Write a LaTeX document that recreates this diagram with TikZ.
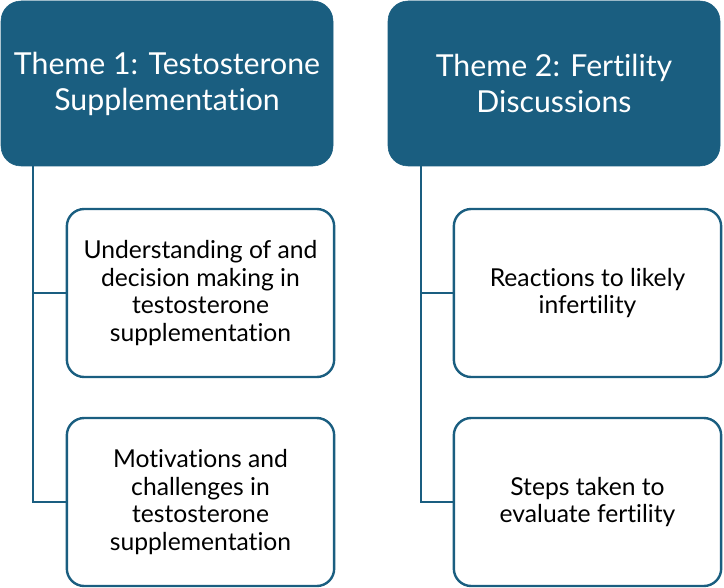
\documentclass[tikz,border=0pt]{standalone}
\usepackage{fontspec}
\setmainfont{Lato}[Ligatures=NoCommon]
\definecolor{THblue}{HTML}{1A5E80}
\usetikzlibrary{positioning}
\tikzset{
  theme/.style={fill=THblue, draw=THblue, rounded corners=15pt, text=white, align=center,
    minimum width=249pt, minimum height=123.75pt, font=\fontsize{22.7}{27}\selectfont},
  sub/.style={fill=white, draw=THblue, line width=1.8pt, rounded corners=13pt, text=black, align=center,
    minimum width=200.5pt, minimum height=126pt, font=\fontsize{18.5}{20.8}\selectfont},
  link/.style={draw=THblue, line width=1.5pt}
}

\begin{document}
\begin{tikzpicture}[x=0.75pt,y=-0.75pt]
  \useasboundingbox (0,0) rectangle (724,588);
  % themes
  \node[theme] (t1) at (167,83.5) {Theme 1: Testosterone\\Supplementation};
  \node[theme] (t2) at (554,83.5) {Theme 2: Fertility\\Discussions};
  % subthemes
  \node[sub] (s1) at (200.5,293) {Understanding of and\\decision making in\\testosterone\\supplementation};
  \node[sub] (s2) at (200.5,502) {Motivations and\\challenges in\\testosterone\\supplementation};
  \node[sub] (s3) at (587.5,293) {Reactions to likely\\infertility};
  \node[sub] (s4) at (587.5,502) {Steps taken to\\evaluate fertility};
  \coordinate (f1) at (33,166);
  \coordinate (f2) at (421,166);
  \draw[link] (f1) |- (s1.west);
  \draw[link] (f1) |- (s2.west);
  \draw[link] (f2) |- (s3.west);
  \draw[link] (f2) |- (s4.west);
\end{tikzpicture}
\end{document}
